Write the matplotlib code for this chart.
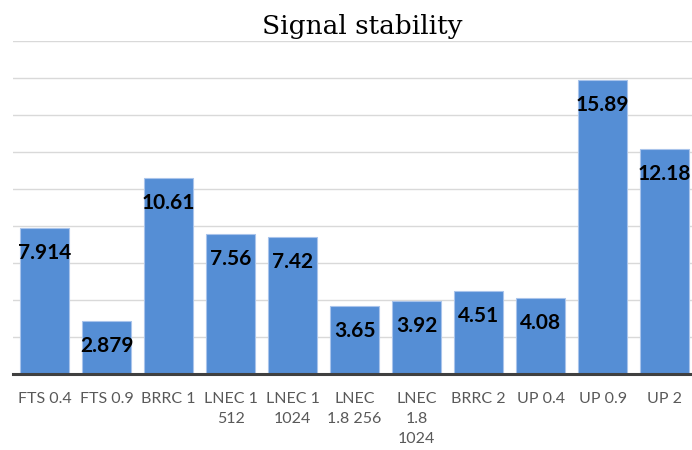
import matplotlib
matplotlib.use("Agg")
import matplotlib.pyplot as plt

categories = ["FTS 0.4", "FTS 0.9", "BRRC 1", "LNEC 1\n512", "LNEC 1\n1024",
              "LNEC\n1.8 256", "LNEC\n1.8\n1024", "BRRC 2", "UP 0.4", "UP 0.9",
              "UP 2"]
values = [7.914, 2.879, 10.61, 7.56, 7.42, 3.65, 3.92, 4.51, 4.08, 15.89, 12.18]
labels = ["7.914", "2.879", "10.61", "7.56", "7.42", "3.65", "3.92", "4.51",
          "4.08", "15.89", "12.18"]
grid_ticks = [0, 2, 4, 6, 8, 10, 12, 14, 16, 18]

BAR_COLOR = "#558ED5"

fig = plt.figure(figsize=(6.92, 4.50), dpi=100)
ax = fig.add_axes([0.0195, 0.169, 0.9805, 0.740])

x = range(len(categories))
ax.bar(x, values, width=0.79, color=BAR_COLOR, edgecolor="#A9C4EB",
       linewidth=0.8, zorder=2)

for xi, v, lab in zip(x, values, labels):
    ax.annotate(lab, (xi, v), xytext=(0, -18), textcoords="offset points",
                ha="center", va="center", fontsize=15, fontweight="bold",
                family="Lato", color="black", zorder=3)

ax.set_xlim(-0.5, 10.44)
ax.set_ylim(0, 18)
ax.set_yticks(grid_ticks)
ax.yaxis.grid(True, color="#D9D9D9", linewidth=1.0, zorder=0)
ax.set_axisbelow(True)
ax.tick_params(axis="y", left=False, labelleft=False)
ax.set_xticks(list(x))
ax.set_xticklabels(categories, family="Lato", fontsize=11.5, color="#595959",
                   linespacing=1.55)
ax.tick_params(axis="x", length=0, pad=13)

for spine in ("top", "right", "left"):
    ax.spines[spine].set_visible(False)
ax.spines["bottom"].set_color("#404040")
ax.spines["bottom"].set_linewidth(2.2)
ax.spines["bottom"].set_zorder(4)

fig.text(0.523, 0.942, "Signal stability", ha="center", va="center",
         family="DejaVu Serif", fontsize=19, color="black")

fig.savefig("out.png", dpi=100, facecolor="white")
